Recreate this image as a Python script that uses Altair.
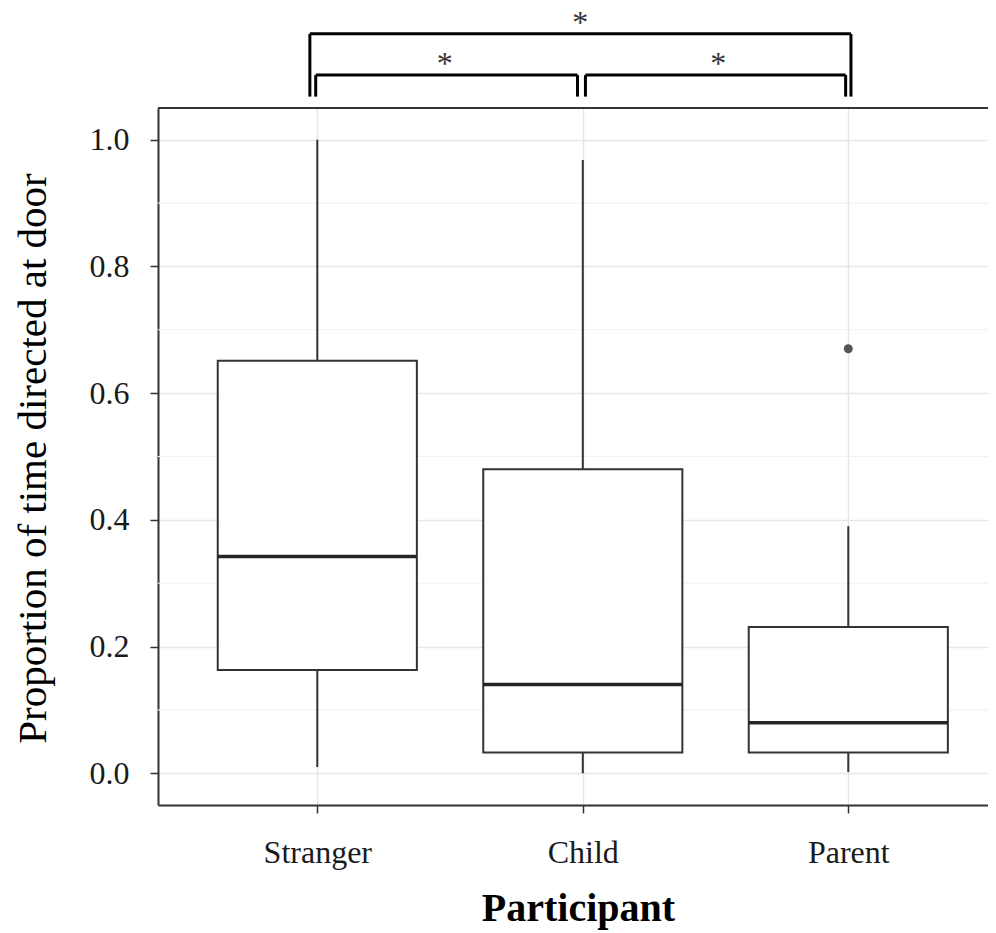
import altair as alt
import pandas as pd

# ---- data ----
categories = ["Stranger", "Child", "Parent"]
positions = [1, 2, 3]
whisker_low = [0.010, 0.000, 0.002]
q1 = [0.163, 0.033, 0.033]
median = [0.342, 0.140, 0.080]
q3 = [0.651, 0.480, 0.231]
whisker_high = [1.000, 0.968, 0.390]

outlier_pos = [3]
outlier_val = [0.670]

y_ticks = [0.0, 0.2, 0.4, 0.6, 0.8, 1.0]
y_minor = [0.1, 0.3, 0.5, 0.7, 0.9]

# significance brackets (segments) and stars
bracket_x = [0.972, 0.972, 3.01, 0.994, 0.994, 1.98, 2.01, 2.01, 2.99]
bracket_x2 = [3.01, 0.972, 3.01, 1.98, 0.994, 1.98, 2.99, 2.01, 2.99]
bracket_y = [1.167, 1.068, 1.068, 1.102, 1.068, 1.068, 1.102, 1.068, 1.068]
bracket_y2 = [1.167, 1.167, 1.167, 1.102, 1.102, 1.102, 1.102, 1.102, 1.102]
star_x = [1.99, 1.48, 2.51]
star_y = [1.168, 1.103, 1.103]
star_text = ["*", "*", "*"]

box_half = 0.375

FONT = "Liberation Serif"

boxes = pd.DataFrame({
    "cat": categories, "pos": positions, "lo": whisker_low, "q1": q1,
    "med": median, "q3": q3, "hi": whisker_high,
})
boxes["left"] = boxes["pos"] - box_half
boxes["right"] = boxes["pos"] + box_half

outliers = pd.DataFrame({"pos": outlier_pos, "val": outlier_val})
minor = pd.DataFrame({"y": y_minor})
brk = pd.DataFrame({"x": bracket_x, "x2": bracket_x2, "y": bracket_y, "y2": bracket_y2})
stars = pd.DataFrame({"x": star_x, "y": star_y, "t": star_text})

W, H = 830, 697
xscale = alt.Scale(domain=[0.4, 0.4 + W / 265.5], nice=False, zero=False)
yscale = alt.Scale(domain=[-0.05, 1.05], nice=False, zero=False)

label_list = "[" + ",".join(f"'{c}'" for c in categories) + "]"
xaxis = alt.Axis(
    values=positions,
    labelExpr=f"{label_list}[datum.value - 1]",
    title="Participant",
    titleFontSize=40, titleFontWeight="bold", titleY=115, titleX=420,
    titleBaseline="alphabetic",
    labelPadding=24, grid=True,
)
yaxis = alt.Axis(
    values=y_ticks, format=".1f",
    title="Proportion of time directed at door",
    titleFontSize=41, titleFontWeight="normal",
    titleX=-113, titleY=350, titleAngle=-90, titleBaseline="alphabetic",
    titleAlign="center",
    labelPadding=21, grid=True,
)

minor_grid = alt.Chart(minor).mark_rule(color="#f1f1f1", strokeWidth=1.2).encode(
    y=alt.Y("y:Q", scale=yscale, axis=yaxis)
)

whiskers = alt.Chart(boxes).mark_rule(color="#333333", strokeWidth=2).encode(
    x=alt.X("pos:Q", scale=xscale, axis=xaxis),
    y=alt.Y("lo:Q", scale=yscale, axis=yaxis),
    y2="hi:Q",
)

box = alt.Chart(boxes).mark_rect(fill="white", stroke="#333333", strokeWidth=2).encode(
    x=alt.X("left:Q", scale=xscale, axis=xaxis),
    x2="right:Q",
    y=alt.Y("q1:Q", scale=yscale, axis=yaxis),
    y2="q3:Q",
)

med = alt.Chart(boxes).mark_rule(color="#262626", strokeWidth=3.5).encode(
    x=alt.X("left:Q", scale=xscale, axis=xaxis),
    x2="right:Q",
    y=alt.Y("med:Q", scale=yscale, axis=yaxis),
)

outl = alt.Chart(outliers).mark_circle(color="#555555", opacity=1, size=80).encode(
    x=alt.X("pos:Q", scale=xscale, axis=xaxis),
    y=alt.Y("val:Q", scale=yscale, axis=yaxis),
)

top_border = alt.Chart(minor).mark_rule(color="#333333", strokeWidth=2).encode(
    y=alt.datum(1.05, scale=yscale),
)

brackets = alt.Chart(brk).mark_rule(color="black", strokeWidth=3).encode(
    x=alt.X("x:Q", scale=xscale, axis=xaxis),
    x2="x2:Q",
    y=alt.Y("y:Q", scale=yscale, axis=yaxis),
    y2="y2:Q",
)

star_marks = alt.Chart(stars).mark_text(
    font=FONT, fontSize=32, baseline="alphabetic", color="#333333"
).encode(
    x=alt.X("x:Q", scale=xscale, axis=xaxis),
    y=alt.Y("y:Q", scale=yscale, axis=yaxis),
    text="t:N",
)

chart = alt.layer(
    minor_grid, whiskers, box, med, outl, top_border, brackets, star_marks
).properties(
    width=W, height=H,
    background="white",
    autosize=alt.AutoSizeParams(type="none"),
    padding={"left": 150, "top": 100, "right": 0, "bottom": 125},
).configure_view(
    stroke=None
).configure_axis(
    labelFont=FONT, titleFont=FONT, labelFontSize=32, labelColor="#1a1a1a",
    titleColor="#000000",
    tickColor="#333333", tickSize=8, tickWidth=1.5,
    domainColor="#333333", domainWidth=2,
    gridColor="#e6e6e6", gridWidth=1.5,
)

chart.save("out.html", embed_options={"renderer": "svg", "actions": False})
